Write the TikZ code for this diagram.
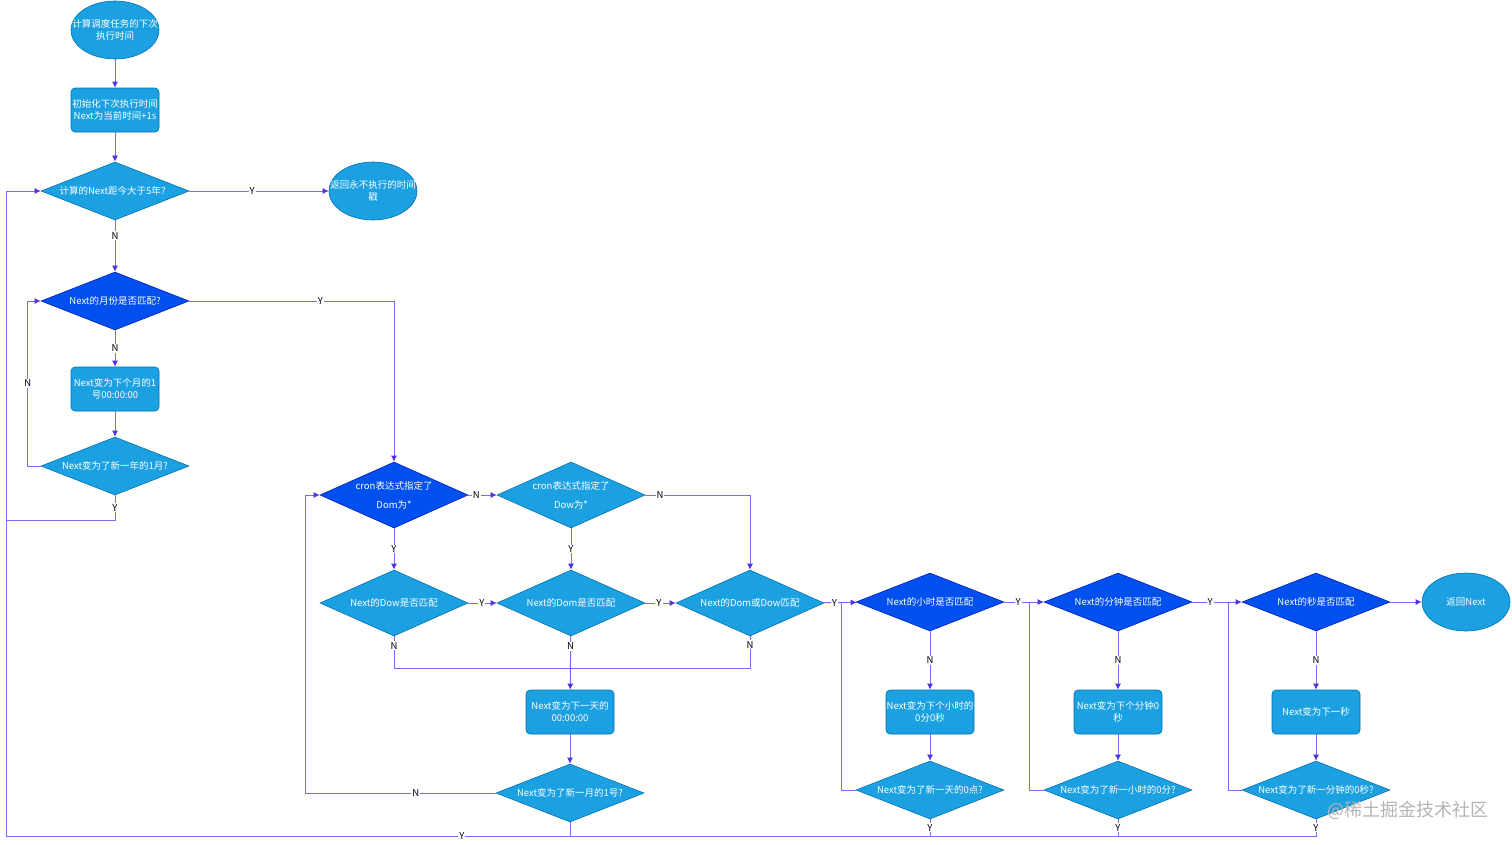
\documentclass[tikz,border=0pt]{standalone}
\usepackage{fontspec}
\setmainfont{Noto Sans CJK SC}
\usepackage{xcolor}
\usepackage{tikz}
\usetikzlibrary{arrows.meta,calc,positioning,shapes.geometric}
\definecolor{cfblue}{HTML}{1BA1E2}
\definecolor{cfbluedark}{HTML}{0070B0}
\definecolor{cfdeep}{HTML}{0050EF}
\definecolor{cfdeepdark}{HTML}{001DBC}
\definecolor{cfline}{HTML}{7A6CF0}
\definecolor{cftip}{HTML}{5230E8}
\definecolor{cfmark}{HTML}{B4B4B4}
\tikzset{
  cterm/.style={ellipse,draw=cfbluedark,line width=.6pt,fill=cfblue,minimum width=88pt,
    minimum height=58pt,inner sep=-13pt,align=center,text=white},
  cstep/.style={draw=cfbluedark,line width=.6pt,fill=cfblue,rounded corners=4pt,minimum width=88pt,
    minimum height=44pt,inner sep=0pt,align=center,text=white},
  cdec/.style={diamond,draw=cfbluedark,line width=.6pt,fill=cfblue,aspect=2.4,minimum width=148pt,
    minimum height=58pt,inner sep=0pt,align=center,text=white},
  cdecd/.style={cdec,draw=cfdeepdark,fill=cfdeep},
  ctall/.style={minimum height=66pt},
  link/.style={line width=1pt,draw=cfline},
  flow/.style={link,-{Latex[length=6pt,width=6pt,color=cftip]}},
  lbl/.style={fill=white,inner sep=1pt,text=black}
}

\begin{document}
\begin{tikzpicture}[x=1pt,y=-1pt,font=\fontsize{9.5}{12}\selectfont]
    \fill[white] (0,0) rectangle (1512,844);
    \useasboundingbox (0,0) rectangle (1512,844);
    % left column
    \node[cterm] (start) at (115,30) {计算调度任务的下次\\执行时间};
    \node[cstep] (init) at (115,110) {初始化下次执行时间\\Next为当前时间+1s};
    \node[cdec] (far) at (115,191) {计算的Next距今大于5年？};
    \node[cterm] (never) at (373,191) {返回永不执行的时间\\戳};
    \node[cdecd] (mon) at (115,301) {Next的月份是否匹配?};
    \node[cstep] (nmon) at (115,389) {Next变为下个月的1\\号00:00:00};
    \node[cdec] (nyr) at (115,466) {Next变为了新一年的1月?};
    % day block
    \node[cdecd,ctall] (domq) at (394,495) {cron表达式指定了\\[7pt]Dom为*};
    \node[cdec,ctall] (dowq) at (571,495) {cron表达式指定了\\[7pt]Dow为*};
    \node[cdec,ctall] (dowm) at (394,603) {Next的Dow是否匹配};
    \node[cdec,ctall] (domm) at (571,603) {Next的Dom是否匹配};
    \node[cdec,ctall] (dorm) at (750,603) {Next的Dom或Dow匹配};
    \node[cstep] (nday) at (570,712) {Next变为下一天的\\00:00:00};
    \node[cdec] (nmo) at (570,793) {Next变为了新一月的1号?};
    % hour, minute, second
    \node[cdecd] (hr) at (930,602) {Next的小时是否匹配};
    \node[cstep] (nhr) at (930,712) {Next变为下个小时的\\0分0秒};
    \node[cdec] (nd) at (930,790) {Next变为了新一天的0点?};
    \node[cdecd] (mi) at (1118,602) {Next的分钟是否匹配};
    \node[cstep] (nmi) at (1118,712) {Next变为下个分钟0\\秒};
    \node[cdec] (nh) at (1118,790) {Next变为了新一小时的0分?};
    \node[cdecd] (se) at (1316,602) {Next的秒是否匹配};
    \node[cstep] (nse) at (1316,712) {Next变为下一秒};
    \node[cdec] (nm) at (1316,790) {Next变为了新一分钟的0秒?};
    \node[cterm] (ret) at (1466,602) {返回Next};
    \coordinate (lx) at (6,520);
    \coordinate (bl) at (6,836);
    \coordinate (jn) at (570,668);
    % connectors
    \draw[flow] (start) -- (init);
    \draw[flow] (init) -- (far);
    \draw[flow] (far) -- node[lbl,pos=.45]{Y} (never);
    \draw[flow] (far) -- node[lbl,pos=.3]{N} (mon);
    \draw[flow] (mon) -- node[lbl]{N} (nmon);
    \draw[flow] (nmon) -- (nyr);
    \draw[flow] (nyr.west) -- ++(-13,0) |- node[lbl,pos=.25]{N} (mon.west);
    \draw[flow] (nyr.south) |- node[lbl,pos=.25]{Y} (lx) |- (far.west);
    \draw[flow] (mon.east) -| node[lbl,pos=.32]{Y} (domq.north);
    \draw[flow] (domq) -- node[lbl,pos=.28]{N} (dowq);
    \draw[flow] (dowq.east) -| node[lbl,pos=.07]{N} (dorm.north);
    \draw[flow] (domq) -- node[lbl]{Y} (dowm);
    \draw[flow] (dowq) -- node[lbl]{Y} (domm);
    \draw[flow] (dowm) -- node[lbl,pos=.48]{Y} (domm);
    \draw[flow] (domm) -- node[lbl,pos=.45]{Y} (dorm);
    \draw[link] (dowm.south) |- node[lbl,pos=.15]{N} (jn);
    \draw[link] (dorm.south) |- node[lbl,pos=.13]{N} (jn);
    \draw[flow] (domm) -- node[lbl,pos=.19]{N} (nday);
    \draw[flow] (nday) -- (nmo);
    \draw[flow] (nmo.west) -| node[lbl,pos=.21]{N} ($(domq.west)+(-14,0)$) -- (domq.west);
    \draw[link] (nmo.south) -- (nmo.south |- bl);
    \draw[flow] (dorm) -- node[lbl,pos=.33]{Y} (hr);
    \draw[link] (nd.west) -| ($(hr.west)+(-14,0)$);
    \draw[flow] (hr) -- node[lbl]{N} (nhr);
    \draw[flow] (nhr) -- (nd);
    \draw[link] (nd.south) -- node[lbl]{Y} (nd.south |- bl);
    \draw[flow] (hr) -- node[lbl,pos=.35]{Y} (mi);
    \draw[link] (nh.west) -| ($(mi.west)+(-14,0)$);
    \draw[flow] (mi) -- node[lbl]{N} (nmi);
    \draw[flow] (nmi) -- (nh);
    \draw[link] (nh.south) -- node[lbl]{Y} (nh.south |- bl);
    \draw[flow] (mi) -- node[lbl,pos=.36]{Y} (se);
    \draw[link] (nm.west) -| ($(se.west)+(-13,0)$);
    \draw[flow] (se) -- node[lbl]{N} (nse);
    \draw[flow] (nse) -- (nm);
    \draw[link] (nm.south) -- node[lbl]{Y} (nm.south |- bl) -- node[lbl,pos=.652]{Y} (bl) -- (lx);
    \draw[flow] (se) -- (ret);
    % watermark
    \node[text=cfmark,font=\fontsize{18}{20}\selectfont] (mark) at (1408,810) {@稀土掘金技术社区};
  \end{tikzpicture}
\end{document}
